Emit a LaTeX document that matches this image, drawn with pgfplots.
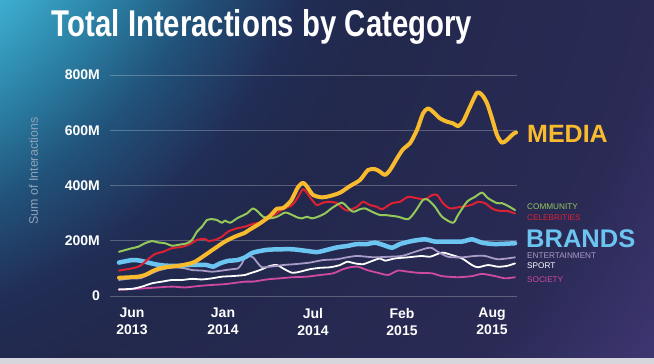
\documentclass[border=0pt]{standalone}
\usepackage{pgfplots}
\pgfplotsset{compat=1.18}
\usepackage{fontspec}
\setmainfont{Liberation Sans}
\definecolor{bgA}{HTML}{3DAED0}
\definecolor{bgB}{HTML}{2C84A8}
\definecolor{bgC}{HTML}{21527A}
\definecolor{bgD}{HTML}{212D55}
\definecolor{bgE}{HTML}{22284C}
\definecolor{bgF}{HTML}{2A2A55}
\definecolor{bgG}{HTML}{3E3672}
\definecolor{cStrip}{HTML}{D6D6DC}
\definecolor{cMedia}{HTML}{F9BB2E}
\definecolor{cBrands}{HTML}{6CC5F0}
\definecolor{cComm}{HTML}{94C95A}
\definecolor{cCeleb}{HTML}{DC2232}
\definecolor{cEnt}{HTML}{A99BC7}
\definecolor{cSport}{HTML}{FFFFFF}
\definecolor{cSoc}{HTML}{CF4AA3}
\definecolor{cYlab}{HTML}{8FA3B8}
\pgfdeclareradialshading{bgshade}{\pgfpoint{0bp}{0bp}}{color(0bp)=(bgA); color(283bp)=(bgA); color(361bp)=(bgB); color(447bp)=(bgC); color(540bp)=(bgD); color(620bp)=(bgE); color(880bp)=(bgF); color(1025bp)=(bgG)}
\begin{document}
\begin{tikzpicture}
\path[use as bounding box] (0,0) rectangle (654bp,364bp);
\begin{scope}
\clip (0,0) rectangle (654bp,364bp);
\pgftext[at=\pgfpoint{-200bp}{564bp}]{\pgfuseshading{bgshade}}
\fill[cStrip] (0,0) rectangle (654bp,5.7bp);
\end{scope}
\node[anchor=base, inner sep=0pt, text=white] at (262bp,327bp)
  {\resizebox{420bp}{27bp}{\bfseries Total Interactions by Category}};
\node[rotate=90, inner sep=0pt, text=cYlab, font=\fontsize{12.4bp}{14bp}\selectfont] at (33.5bp,193bp) {Sum of Interactions};
\begin{axis}[
  at={(110bp,68bp)}, anchor=south west,
  scale only axis, width=407bp, height=221bp,
  xmin=110, xmax=517, ymin=0, ymax=800,
  clip=false,
  axis line style={draw=none},
  major tick length=0pt,
  tick style={draw=none},
  ymajorgrids,
  major grid style={draw=white, draw opacity=0.25, line width=0.8bp},
  xtick={132,223,313,402,492},
  xticklabels={{Jun\\2013},{Jan\\2014},{Jul\\2014},{Feb\\2015},{Aug\\2015}},
  xticklabel style={align=center, text=white, inner sep=0pt, anchor=north, yshift=-12bp,
     font=\fontsize{14bp}{17bp}\selectfont\bfseries},
  ytick={0,200,400,600,800},
  yticklabels={0,200M,400M,600M,800M},
  yticklabel style={text=white, inner sep=0pt, anchor=east, xshift=-10bp,
     font=\fontsize{14bp}{17bp}\selectfont\bfseries},
  every axis plot/.append style={smooth, tension=0.45, line join=round, line cap=round},
]
% SOCIETY
\addplot[color=cSoc, line width=1.8bp] coordinates {
(119,22)(145,28)(158,31)(172,34)(185,31)(198,36)(212,40)(225,43)(245,52)(253,52)(267,60)(280,64)(293,68)(307,70)(320,76)(333,82)(343,97)(350,104)(358,106)(367,94)(380,82)(388,76)(398,92)(408,88)(418,84)(432,82)(442,72)(458,68)(472,72)(482,80)(495,72)(505,64)(515,68)};
% SPORT
\addplot[color=cSport, line width=1.8bp] coordinates {
(119,24)(132,26)(142,34)(152,46)(162,52)(172,58)(182,58)(192,62)(202,60)(212,64)(222,70)(232,72)(245,76)(250,82)(260,94)(270,109)(277,112)(283,100)(292,84)(300,88)(310,97)(320,102)(330,104)(340,112)(347,124)(355,118)(363,115)(373,128)(380,136)(385,128)(395,136)(408,140)(422,145)(430,142)(442,157)(452,148)(462,136)(472,112)(478,104)(488,112)(498,106)(507,109)(515,118)};
% ENTERTAINMENT
\addplot[color=cEnt, line width=1.8bp] coordinates {
(119,58)(132,64)(140,64)(148,76)(158,92)(167,100)(175,104)(185,100)(192,94)(202,92)(212,88)(222,92)(232,97)(238,100)(242,118)(245,140)(248,145)(253,140)(258,118)(262,104)(270,106)(283,112)(297,116)(310,121)(323,130)(337,133)(347,140)(357,145)(367,142)(375,140)(388,142)(402,145)(415,160)(430,175)(438,160)(448,142)(462,140)(475,145)(485,145)(498,133)(515,140)};
% BRANDS
\addplot[color=cBrands, line width=4.5bp] coordinates {
(119,121)(132,130)(140,128)(147,122)(155,115)(165,110)(178,109)(188,112)(198,113)(207,112)(213,106)(220,118)(228,127)(237,130)(245,140)(253,157)(267,167)(280,169)(293,169)(307,163)(317,159)(327,167)(337,176)(347,181)(357,188)(367,188)(375,193)(383,185)(392,175)(400,188)(412,199)(425,205)(435,197)(448,197)(462,197)(472,205)(482,193)(495,188)(515,191)};
% CELEBRITIES
\addplot[color=cCeleb, line width=2bp] coordinates {
(119,92)(132,100)(140,109)(147,130)(155,152)(163,160)(172,173)(182,178)(190,188)(197,203)(205,207)(208,199)(215,203)(222,215)(228,233)(237,245)(245,251)(253,261)(263,269)(273,290)(283,314)(292,329)(298,358)(303,387)(307,373)(312,348)(317,329)(323,338)(330,341)(337,336)(343,317)(348,309)(357,323)(363,341)(370,329)(377,323)(382,314)(392,336)(400,341)(408,359)(417,354)(425,350)(432,365)(437,366)(443,336)(450,317)(458,321)(467,326)(473,332)(478,341)(485,336)(492,317)(498,309)(507,308)(515,299)};
% COMMUNITY
\addplot[color=cComm, line width=2bp] coordinates {
(119,160)(132,173)(138,178)(145,191)(152,199)(158,194)(165,191)(172,182)(178,185)(187,191)(192,203)(197,233)(202,251)(207,275)(212,278)(217,275)(222,265)(225,273)(230,265)(237,281)(242,290)(247,299)(253,317)(258,305)(263,287)(270,281)(277,287)(285,302)(290,297)(297,285)(302,281)(307,287)(312,281)(318,287)(325,299)(333,321)(342,338)(347,323)(353,305)(360,314)(365,317)(372,305)(380,293)(385,293)(398,287)(408,278)(415,305)(423,348)(428,348)(435,323)(442,287)(453,265)(458,293)(467,341)(475,359)(482,374)(488,354)(497,336)(502,336)(508,326)(515,311)};
% MEDIA
\addplot[color=cMedia, line width=4bp] coordinates {
(119,66)(130,68)(138,70)(145,76)(155,94)(165,104)(178,109)(188,116)(195,124)(205,148)(215,173)(225,197)(235,215)(245,229)(250,241)(260,263)(270,290)(277,316)(283,318)(291,345)(298,394)(303,410)(307,396)(313,366)(322,357)(330,362)(340,374)(350,398)(360,420)(368,456)(375,459)(380,450)(385,438)(390,456)(397,498)(403,531)(410,553)(417,601)(423,661)(428,679)(433,667)(440,643)(447,631)(453,625)(458,615)(463,631)(470,685)(477,736)(482,728)(487,698)(492,643)(497,583)(502,555)(507,565)(513,586)(516,592)};
\end{axis}
% right-hand labels
\node[anchor=base west, inner sep=0pt, text=cMedia, font=\fontsize{25bp}{28bp}\selectfont\bfseries] at (527bp,221bp) {MEDIA};
\node[anchor=base west, inner sep=0pt, text=cComm, font=\fontsize{8.2bp}{10bp}\selectfont] at (527bp,154bp) {COMMUNITY};
\node[anchor=base west, inner sep=0pt, text=cCeleb, font=\fontsize{8.2bp}{10bp}\selectfont] at (527bp,143.5bp) {CELEBRITIES};
\node[anchor=base west, inner sep=0pt, text=cBrands, font=\fontsize{25.5bp}{28bp}\selectfont\bfseries] at (526bp,116.2bp) {BRANDS};
\node[anchor=base west, inner sep=0pt, text=cEnt, font=\fontsize{8.2bp}{10bp}\selectfont] at (527bp,105.6bp) {ENTERTAINMENT};
\node[anchor=base west, inner sep=0pt, text=cSport, font=\fontsize{8.2bp}{10bp}\selectfont] at (527bp,95.4bp) {SPORT};
\node[anchor=base west, inner sep=0pt, text=cSoc, font=\fontsize{8.2bp}{10bp}\selectfont] at (527bp,81.7bp) {SOCIETY};
\end{tikzpicture}
\end{document}
